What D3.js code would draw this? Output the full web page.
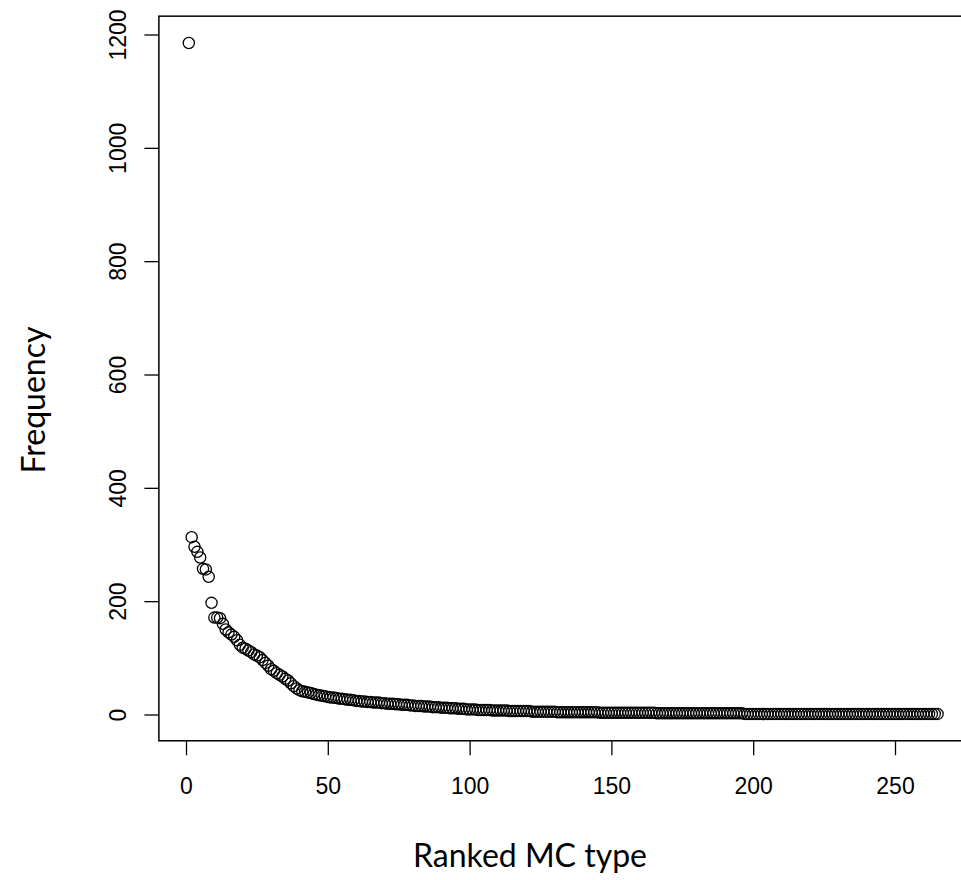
<!DOCTYPE html>
<html>
<head>
<meta charset="utf-8">
<script src="https://cdn.jsdelivr.net/npm/d3@7"></script>
<style>
    body { margin: 0; background: #fff; }
    .axis-label { font-family: Lato, "Open Sans", sans-serif; font-size: 32px; fill: #000; }
</style>
</head>
<body>
<div id="chart-area"><svg></svg></div>
<script>

// frequency of each MC type, ranked 1..265
const frequency = [
    1185, 313, 296, 287, 277, 257, 256, 243, 197, 171,
    171, 170, 160, 150, 145, 141, 137, 131, 123, 118,
    116, 113, 110, 106, 104, 101, 96, 91, 86, 80,
    77, 73, 70, 67, 63, 60, 55, 50, 46, 43,
    41, 40, 39, 38, 36, 35, 34, 33, 32, 31,
    30, 30, 29, 28, 28, 27, 26, 26, 25, 24,
    24, 23, 23, 22, 22, 21, 21, 21, 20, 20,
    19, 19, 19, 18, 18, 17, 17, 17, 16, 16,
    15, 15, 15, 14, 14, 14, 13, 13, 13, 12,
    12, 12, 11, 11, 11, 10, 10, 10, 9, 9,
    9, 9, 8, 8, 8, 8, 8, 7, 7, 7,
    7, 7, 7, 6, 6, 6, 6, 6, 6, 6,
    6, 5, 5, 5, 5, 5, 5, 5, 5, 5,
    4, 4, 4, 4, 4, 4, 4, 4, 4, 4,
    4, 4, 4, 4, 4, 3, 3, 3, 3, 3,
    3, 3, 3, 3, 3, 3, 3, 3, 3, 3,
    3, 3, 3, 3, 3, 2, 2, 2, 2, 2,
    2, 2, 2, 2, 2, 2, 2, 2, 2, 2,
    2, 2, 2, 2, 2, 2, 2, 2, 2, 2,
    2, 2, 2, 2, 2, 2, 1, 1, 1, 1,
    1, 1, 1, 1, 1, 1, 1, 1, 1, 1,
    1, 1, 1, 1, 1, 1, 1, 1, 1, 1,
    1, 1, 1, 1, 1, 1, 1, 1, 1, 1,
    1, 1, 1, 1, 1, 1, 1, 1, 1, 1,
    1, 1, 1, 1, 1, 1, 1, 1, 1, 1,
    1, 1, 1, 1, 1, 1, 1, 1, 1, 1,
    1, 1, 1, 1, 1
];

const xTicks = [0, 50, 100, 150, 200, 250];
const yTicks = [0, 200, 400, 600, 800, 1000, 1200];
const xTitle = "Ranked MC type";
const yTitle = "Frequency";

const chartSize = { width: 961, height: 880 };
const tickFont = "'Liberation Sans', Arial, Helvetica, sans-serif";

// R style axis extents: data range padded by 4% on each side
const pad = ([lo, hi]) => [lo - (hi - lo) * 0.04, hi + (hi - lo) * 0.04];

const x = d3.scaleLinear().domain([0, 250]).range([186, 895]);
const y = d3.scaleLinear().domain([0, 1200]).range([714.5, 34.5]);

const drawChart = () => {
    const svg = d3.select("#chart-area svg")
        .attr("width", chartSize.width)
        .attr("height", chartSize.height);

    const ranks = frequency.map((f, i) => ({ rank: i + 1, f }));
    const [x0, x1] = pad(d3.extent(ranks, d => d.rank));
    const [y0, y1] = pad(d3.extent(ranks, d => d.f));

    // points
    svg.append("g")
        .selectAll("circle")
        .data(ranks)
        .enter().append("circle")
        .attr("cx", d => x(d.rank))
        .attr("cy", d => y(d.f))
        .attr("r", 5.6)
        .attr("fill", "none")
        .attr("stroke", "#000")
        .attr("stroke-width", 1.3);

    // plot box
    svg.append("rect")
        .attr("x", x(x0))
        .attr("y", y(y1))
        .attr("width", x(x1) - x(x0))
        .attr("height", y(y0) - y(y1))
        .attr("fill", "none")
        .attr("stroke", "#000")
        .attr("stroke-width", 1.5);

    // x axis
    const xAxis = svg.append("g")
        .attr("class", "x-axis")
        .attr("transform", `translate(0,${y(y0) + 0.5})`)
        .call(d3.axisBottom(x).tickValues(xTicks).tickFormat(d3.format("d"))
            .tickSize(14).tickPadding(22).tickSizeOuter(0))
        .attr("font-family", tickFont)
        .attr("font-size", 23);
    xAxis.select(".domain").remove();
    xAxis.selectAll("line").attr("stroke", "#000").attr("stroke-width", 1.3);
    xAxis.selectAll("text").attr("fill", "#000");

    // y axis, labels rotated like base R
    const yAxis = svg.append("g")
        .attr("class", "y-axis")
        .attr("transform", `translate(${x(x0) - 0.5},0)`)
        .call(d3.axisLeft(y).tickValues(yTicks).tickFormat(d3.format("d"))
            .tickSize(14).tickSizeOuter(0))
        .attr("font-family", tickFont)
        .attr("font-size", 23);
    yAxis.select(".domain").remove();
    yAxis.selectAll("line").attr("stroke", "#000").attr("stroke-width", 1.3);
    yAxis.selectAll("text")
        .attr("fill", "#000")
        .attr("x", null)
        .attr("dy", null)
        .attr("text-anchor", "middle")
        .attr("transform", "translate(-32,0) rotate(-90)");

    svg.append("text")
        .attr("class", "axis-label")
        .attr("text-anchor", "middle")
        .attr("x", 530)
        .attr("y", 867)
        .text(xTitle);

    svg.append("text")
        .attr("class", "axis-label")
        .attr("text-anchor", "middle")
        .attr("transform", "translate(45,400) rotate(-90)")
        .text(yTitle);
};

window.onload = drawChart;
</script>
</body>
</html>
